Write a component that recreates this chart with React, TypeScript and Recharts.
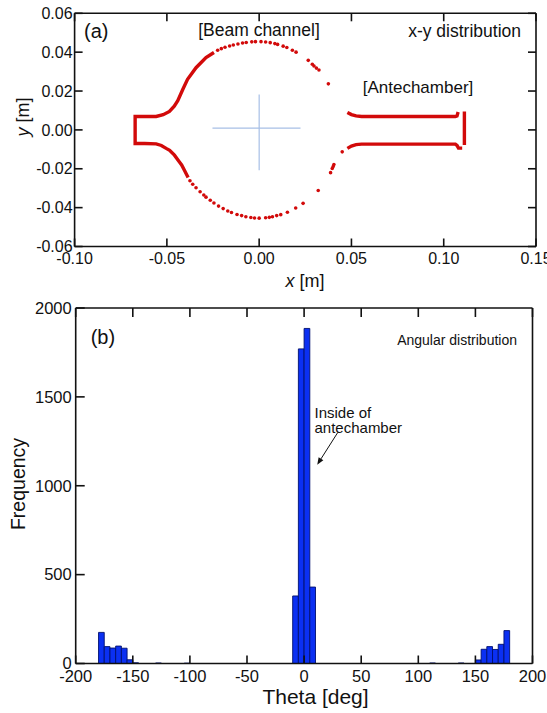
import React from "react";
import { Bar, ComposedChart, ReferenceLine, Scatter, ScatterChart, XAxis, YAxis } from "recharts";

const FONT = "'Liberation Sans', Arial, sans-serif";
const RED = "#d20a0a";
const INK = "#111111";

// ---- (a) x-y distribution [x m, y m]
const leftWall: [number, number][] = [
  [-0.0385, -0.0245], [-0.0405, -0.0208], [-0.042, -0.018], [-0.0432, -0.0165],
  [-0.0459, -0.013], [-0.0485, -0.0105], [-0.0504, -0.0095], [-0.053, -0.008],
  [-0.0558, -0.0072], [-0.062, -0.007], [-0.0672, -0.007], [-0.0672, 0.0069],
  [-0.062, 0.0069], [-0.0558, 0.0069], [-0.052, 0.0078], [-0.0486, 0.0095],
  [-0.046, 0.0122], [-0.0441, 0.015], [-0.0414, 0.0208], [-0.0388, 0.026],
  [-0.0342, 0.032], [-0.0288, 0.0372], [-0.0245, 0.0398],
];
const rightTop: [number, number][] = [
  [0.0478, 0.009], [0.05, 0.0079], [0.0525, 0.0072], [0.0555, 0.0069],
  [0.08, 0.0069], [0.1063, 0.0069], [0.1072, 0.0072], [0.1078, 0.0092],
];
const rightEnd: [number, number][] = [[0.1112, 0.0095], [0.1112, -0.0078]];
const rightBottom: [number, number][] = [
  [0.0478, -0.0095], [0.05, -0.0083], [0.0525, -0.0076], [0.0555, -0.0073],
  [0.08, -0.0073], [0.1063, -0.0073], [0.1072, -0.008], [0.108, -0.0094], [0.11, -0.0094],
];
const topArc: [number, number][] = [
  [-0.0225, 0.041], [-0.0205, 0.0418], [-0.0185, 0.0425], [-0.016, 0.0432],
  [-0.014, 0.0437], [-0.0115, 0.0442], [-0.009, 0.0447], [-0.007, 0.045],
  [-0.004, 0.0453], [-0.002, 0.0454], [0.001, 0.0454], [0.0035, 0.0452],
  [0.006, 0.0449], [0.0085, 0.0444], [0.01, 0.044], [0.013, 0.0431],
  [0.015, 0.0424], [0.018, 0.041], [0.02, 0.04], [0.0266, 0.0358],
  [0.0288, 0.0338], [0.0297, 0.0329], [0.031, 0.0318], [0.0324, 0.0308], [0.0375, 0.0237],
];
const bottomArc: [number, number][] = [
  [-0.0375, -0.0262], [-0.036, -0.028], [-0.0342, -0.0298], [-0.032, -0.0318],
  [-0.03, -0.0335], [-0.0288, -0.0346], [-0.0265, -0.0362], [-0.0245, -0.0376],
  [-0.022, -0.0392], [-0.0195, -0.0405], [-0.017, -0.0417], [-0.015, -0.0425],
  [-0.012, -0.0435], [-0.0095, -0.0441], [-0.0072, -0.0447], [-0.0045, -0.0451],
  [-0.0025, -0.0453], [0.0, -0.0454], [0.0035, -0.0452], [0.0055, -0.045],
  [0.0072, -0.0447], [0.0095, -0.0441], [0.0117, -0.0436], [0.0153, -0.0424],
  [0.0198, -0.0402], [0.0238, -0.0378], [0.032, -0.0312], [0.0387, -0.022],
  [0.0396, -0.0199], [0.0401, -0.0188], [0.0405, -0.0178], [0.045, -0.0113],
];
const crossH: [number, number][] = [[-0.0253, 0.0009], [0.0224, 0.0009]];
const crossV: [number, number][] = [[0, 0.0182], [0, -0.0208]];
const xDomainA: [number, number] = [-0.1, 0.15];
const yDomainA: [number, number] = [-0.06, 0.06];
const xTicksA = [-0.1, -0.05, 0, 0.05, 0.1, 0.15];
const yTicksA = [-0.06, -0.04, -0.02, 0, 0.02, 0.04, 0.06];

// ---- (b) angular distribution, 5 deg bins (bin centres)
const thetaBins = [
  -177.5, -172.5, -167.5, -162.5, -157.5, -152.5, -147.5, -127.5, -102.5,
  -7.5, -2.5, 2.5, 7.5, 112.5, 137.5,
  152.5, 157.5, 162.5, 167.5, 172.5, 177.5,
];
const frequency = [
  175, 95, 87, 98, 86, 21, 4, 3, 2,
  380, 1770, 1885, 430, 3, 3,
  20, 80, 95, 79, 108, 185,
];
const xDomainB: [number, number] = [-200, 200];
const yDomainB: [number, number] = [0, 2000];
const xTicksB = [-200, -150, -100, -50, 0, 50, 100, 150, 200];
const yTicksB = [0, 500, 1000, 1500, 2000];
const arrowB: [number, number][] = [[29.5, 1300], [11.5, 1118]];

const pts = (a: [number, number][]) => a.map(([x, y]) => ({ x, y }));
const histData = thetaBins.map((theta, i) => ({ theta, count: frequency[i] }));

const fix2 = (v: number) => v.toFixed(2);

const axisLine = { stroke: INK, strokeWidth: 1.6 };
const tickLine = { stroke: INK, strokeWidth: 1.6 };
const tickFont = (size: number) => ({ fontSize: size, fontFamily: FONT, fill: INK });
const noShape = () => <g />;
const dot = (p: any) => <circle cx={p.cx} cy={p.cy} r={1.8} fill={RED} />;
const wall = { stroke: RED, strokeWidth: 3.4 };

// inward tick marks on the top / right frame, at a reference line's far end
const topTick = (len: number) => (p: any) => {
  const ya = Math.min(p.y1, p.y2);
  return <line x1={p.x1} x2={p.x1} y1={ya} y2={ya + len} stroke={INK} strokeWidth={1.6} />;
};
const rightTick = (len: number) => (p: any) => {
  const xb = Math.max(p.x1, p.x2);
  return <line x1={xb} x2={xb - len} y1={p.y1} y2={p.y1} stroke={INK} strokeWidth={1.6} />;
};

const arrowShape = (p: any) => {
  const { x1, y1, x2, y2 } = p;
  const dx = x2 - x1, dy = y2 - y1;
  const l = Math.hypot(dx, dy) || 1;
  const ux = dx / l, uy = dy / l;
  const bx = x2 - ux * 7, by = y2 - uy * 7;
  return (
    <g>
      <line x1={x1} y1={y1} x2={bx} y2={by} stroke={INK} strokeWidth={1} />
      <polygon points={`${x2},${y2} ${bx - uy * 2.8},${by + ux * 2.8} ${bx + uy * 2.8},${by - ux * 2.8}`} fill={INK} />
    </g>
  );
};

export default function App() {
  const txt = { fontFamily: FONT, fill: INK } as const;
  return (
    <div style={{ position: "absolute", left: 0, top: 0, width: 547, height: 713, background: "#fff" }}>
      <svg width={547} height={713} style={{ position: "absolute", left: 0, top: 0 }}>
        <text x={84} y={37.5} fontSize={20} {...txt}>(a)</text>
        <text x={259} y={35.6} fontSize={17.5} textAnchor="middle" {...txt}>[Beam channel]</text>
        <text x={521} y={37} fontSize={17.5} textAnchor="end" {...txt}>x-y distribution</text>
        <text x={418} y={93} fontSize={17} textAnchor="middle" {...txt}>[Antechamber]</text>
        <text x={305} y={286.5} fontSize={18} textAnchor="middle" {...txt}>
          <tspan fontStyle="italic">x</tspan> [m]
        </text>
        <text x={29} y={117} fontSize={18} textAnchor="middle" transform="rotate(-90 29 117)" {...txt}>
          <tspan fontStyle="italic">y</tspan> [m]
        </text>

        <text x={90.7} y={344} fontSize={20} {...txt}>(b)</text>
        <text x={517} y={344.5} fontSize={14} textAnchor="end" {...txt}>Angular distribution</text>
        <text x={314.5} y={417.5} fontSize={15} {...txt}>Inside of</text>
        <text x={314.5} y={432.5} fontSize={15} {...txt}>antechamber</text>
        <text x={315.5} y={704} fontSize={21} textAnchor="middle" {...txt}>Theta [deg]</text>
        <text x={25} y={484} fontSize={19.5} textAnchor="middle" transform="rotate(-90 25 484)" {...txt}>Frequency</text>
      </svg>

      <div style={{ position: "absolute", left: 0, top: 0 }}>
        <ScatterChart width={547} height={300} margin={{ top: 13.3, right: 11, bottom: 13.5, left: 14.6 }}>
          <XAxis dataKey="x" type="number" domain={xDomainA} ticks={xTicksA} interval={0}
            allowDataOverflow height={40} tickSize={-8} tickMargin={14.5} stroke={INK}
            tickLine={tickLine} axisLine={axisLine} tick={tickFont(16)} tickFormatter={fix2} />
          <YAxis dataKey="y" type="number" domain={yDomainA} ticks={yTicksA} interval={0}
            allowDataOverflow width={60} tickSize={-8} tickMargin={10} stroke={INK}
            tickLine={tickLine} axisLine={axisLine} tick={tickFont(16)} tickFormatter={fix2} />
          <ReferenceLine y={yDomainA[1]} stroke={INK} strokeWidth={1.6} ifOverflow="visible" />
          <ReferenceLine x={xDomainA[1]} stroke={INK} strokeWidth={1.6} ifOverflow="visible" />
          {xTicksA.map((v) => (
            <ReferenceLine key={`xa${v}`} x={v} ifOverflow="visible" shape={topTick(8)} />
          ))}
          {yTicksA.map((v) => (
            <ReferenceLine key={`ya${v}`} y={v} ifOverflow="visible" shape={rightTick(8)} />
          ))}
          <ReferenceLine segment={pts(crossH)} stroke="#a7bfe6" strokeWidth={1.2} ifOverflow="visible" />
          <ReferenceLine segment={pts(crossV)} stroke="#a7bfe6" strokeWidth={1.2} ifOverflow="visible" />
          <Scatter data={pts(leftWall)} line={wall} shape={noShape} isAnimationActive={false} />
          <Scatter data={pts(rightTop)} line={wall} shape={noShape} isAnimationActive={false} />
          <Scatter data={pts(rightEnd)} line={wall} shape={noShape} isAnimationActive={false} />
          <Scatter data={pts(rightBottom)} line={wall} shape={noShape} isAnimationActive={false} />
          <Scatter data={pts(topArc)} shape={dot} isAnimationActive={false} />
          <Scatter data={pts(bottomArc)} shape={dot} isAnimationActive={false} />
        </ScatterChart>
      </div>

      <div style={{ position: "absolute", left: 0, top: 300 }}>
        <ComposedChart width={547} height={413} data={histData} barCategoryGap={0} barGap={0}
          margin={{ top: 8, right: 14.5, bottom: 9.5, left: 15.7 }}>
          <XAxis dataKey="theta" type="number" domain={xDomainB} ticks={xTicksB} interval={0}
            allowDataOverflow height={40} tickSize={-8} tickMargin={14.5} stroke={INK}
            tickLine={tickLine} axisLine={axisLine} tick={tickFont(16.5)} />
          <YAxis type="number" domain={yDomainB} ticks={yTicksB} interval={0} allowDataOverflow
            width={60} tickSize={-9} tickMargin={13} stroke={INK}
            tickLine={tickLine} axisLine={axisLine} tick={tickFont(16.5)} />
          <ReferenceLine y={yDomainB[1]} stroke={INK} strokeWidth={1.6} ifOverflow="visible" />
          <ReferenceLine x={xDomainB[1]} stroke={INK} strokeWidth={1.6} ifOverflow="visible" />
          {xTicksB.map((v) => (
            <ReferenceLine key={`xb${v}`} x={v} ifOverflow="visible" shape={topTick(9)} />
          ))}
          <Bar dataKey="count" barSize={5.7} fill="#0b30f2" stroke="#00106e" strokeWidth={0.9}
            isAnimationActive={false} />
          <ReferenceLine segment={pts(arrowB)} ifOverflow="visible" shape={arrowShape} />
        </ComposedChart>
      </div>
    </div>
  );
}
